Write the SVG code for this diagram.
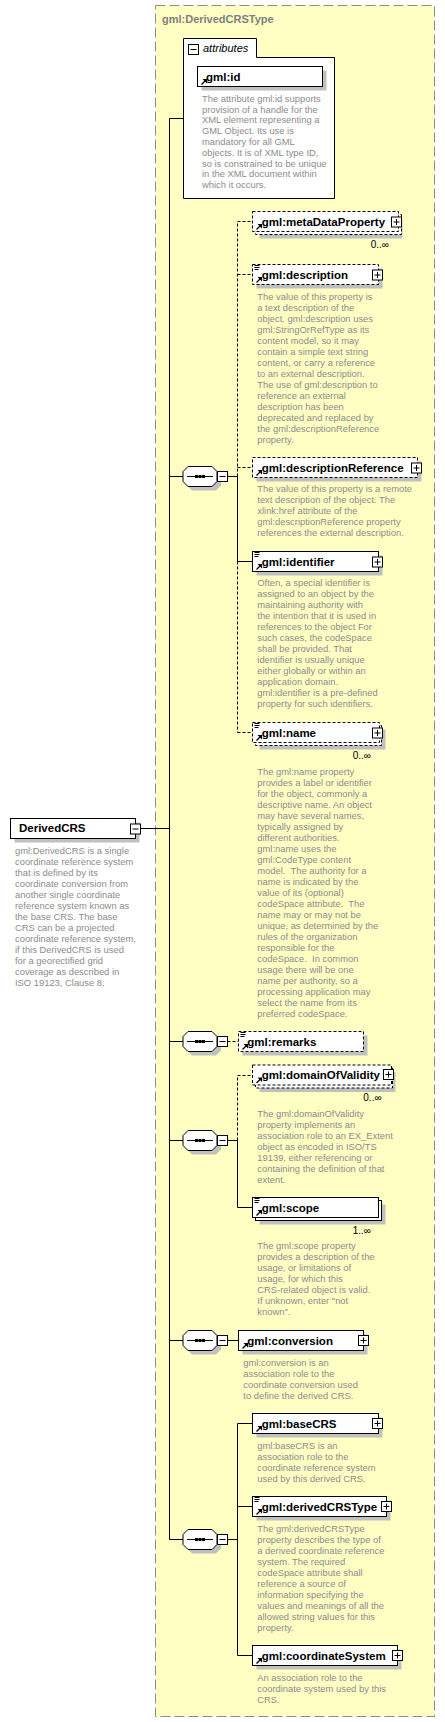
<svg xmlns="http://www.w3.org/2000/svg" xmlns:xlink="http://www.w3.org/1999/xlink" width="445" height="1722" viewBox="0 0 445 1722">
<style>
.frame{fill:#ffffc4;stroke:#8c8c8c;stroke-dasharray:10,4}
.box{fill:#fff;stroke:#000}
.d{stroke-dasharray:3,2}
.sh{fill:#c0c0c0}
.lbl{font-family:'Liberation Sans',Arial,sans-serif;font-weight:bold;font-size:11.5px;fill:#000}
.ttl{font-family:'Liberation Sans',Arial,sans-serif;font-weight:bold;font-size:11px;fill:#808080}
.doc{font-family:'Liberation Sans',Arial,sans-serif;font-size:9.4px;fill:#8c8c8c;white-space:pre}
.occ{font-family:'Liberation Sans',Arial,sans-serif;font-size:10px;fill:#000}
.conn path{fill:none;stroke:#000}
</style>
<defs>
<g id="ref"><path d="M0.5,5.5 L4.5,1.5" stroke="#000" stroke-width="1.3" fill="none"/><path d="M1.5,0 H6 V4.5 Z" fill="#000"/></g>
<g id="docic"><path d="M0,0.5H5M0,2.5H5M0,4.5H4" stroke="#000" fill="none"/></g>
<g id="plus"><rect x="0.5" y="0.5" width="10" height="10" fill="#fff" stroke="#000"/><path d="M2.5,5.5H8.5M5.5,2.5V8.5" stroke="#000" fill="none"/></g>
<g id="minus"><rect x="0.5" y="0.5" width="10" height="10" fill="#fff" stroke="#000"/><path d="M2.5,5.5H8.5" stroke="#000" fill="none"/></g>
<g id="seq">
<path d="M9,4.5 H33 L38,9.5 V19.5 L33,24.5 H9 L4,19.5 V9.5 Z" class="sh"/>
<path d="M5,0.5 H29 L34,5.5 V15.5 L29,20.5 H5 L0,15.5 V5.5 Z" fill="#fff" stroke="#000"/>
<path d="M4,10.5 H30" stroke="#000" fill="none"/>
<rect x="12" y="9" width="3" height="3" fill="#000"/><rect x="15.5" y="9" width="3" height="3" fill="#000"/><rect x="19" y="9" width="3" height="3" fill="#000"/>
<use xlink:href="#minus" x="34" y="5"/>
</g>
</defs>

<g id="DerivedCRSType">
<rect class="frame" x="155.5" y="5.5" width="279" height="1711"/>
<text class="ttl" x="162" y="23">gml:DerivedCRSType</text>
</g>

<g class="conn" id="connectors">
<path d="M140.5,828.5 H169.5"/>
<path d="M169.5,118.5 V1539.5"/>
<path d="M169.5,118.5 H183.5"/>
<path d="M169.5,476.5 H183"/>
<path d="M169.5,1041.5 H183"/>
<path d="M169.5,1140.5 H183"/>
<path d="M169.5,1340.5 H183"/>
<path d="M169.5,1539.5 H183"/>
<path d="M227.5,476.5 H237.5"/>
<path class="d" d="M237.5,476.5 V221.5"/>
<path d="M237.5,476.5 V561.5"/>
<path class="d" d="M237.5,561.5 V732.5"/>
<path class="d" d="M237.5,221.5 H252.5"/>
<path class="d" d="M237.5,274.5 H252.5"/>
<path class="d" d="M237.5,467.5 H252.5"/>
<path d="M237.5,561.5 H252.5"/>
<path class="d" d="M237.5,732.5 H252.5"/>
<path class="d" d="M227.5,1041.5 H238.5"/>
<path d="M227.5,1140.5 H237.5"/>
<path class="d" d="M237.5,1140.5 V1075.5 H252.5"/>
<path d="M237.5,1140.5 V1207.5 H252.5"/>
<path d="M227.5,1340.5 H238.5"/>
<path d="M227.5,1539.5 H237.5"/>
<path d="M237.5,1423.5 V1655.5"/>
<path d="M237.5,1423.5 H252.5"/>
<path d="M237.5,1506.5 H252.5"/>
<path d="M237.5,1655.5 H252.5"/>
</g>

<g id="DerivedCRS">
<rect class="sh" x="14.5" y="822.5" width="125" height="20"/>
<rect class="box" x="10.5" y="818.5" width="125" height="20"/>
<text class="lbl" x="19" y="832">DerivedCRS</text>
<use xlink:href="#minus" x="130" y="823.5"/>
<text class="doc" x="15" y="853.7"><tspan x="15">gml:DerivedCRS is a single</tspan><tspan x="15" dy="11">coordinate reference system</tspan><tspan x="15" dy="11">that is defined by its</tspan><tspan x="15" dy="11">coordinate conversion from</tspan><tspan x="15" dy="11">another single coordinate</tspan><tspan x="15" dy="11">reference system known as</tspan><tspan x="15" dy="11">the base CRS. The base</tspan><tspan x="15" dy="11">CRS can be a projected</tspan><tspan x="15" dy="11">coordinate reference system,</tspan><tspan x="15" dy="11">if this DerivedCRS is used</tspan><tspan x="15" dy="11">for a georectified grid</tspan><tspan x="15" dy="11">coverage as described in</tspan><tspan x="15" dy="11">ISO 19123, Clause 8.</tspan></text>
</g>

<g id="attributes">
<path class="box" d="M183.5,38.5 H256.5 V57.5 H334.5 V198.5 H183.5 Z"/>
<use xlink:href="#minus" x="188" y="44"/>
<text x="203" y="52" style="font-family:'Liberation Sans',Arial,sans-serif;font-style:italic;font-size:11px;fill:#000">attributes</text>
</g>

<g id="gml_id">
<rect class="sh" x="201.5" y="70.5" width="125" height="20"/>
<rect class="box" x="197.5" y="66.5" width="125" height="20"/>
<use xlink:href="#ref" x="201" y="79"/>
<text class="lbl" x="206" y="80.5">gml:id</text>
<text class="doc" x="202" y="101.7"><tspan x="202">The attribute gml:id supports</tspan><tspan x="202" dy="10.8">provision of a handle for the</tspan><tspan x="202" dy="10.8">XML element representing a</tspan><tspan x="202" dy="10.8">GML Object. Its use is</tspan><tspan x="202" dy="10.8">mandatory for all GML</tspan><tspan x="202" dy="10.8">objects. It is of XML type ID,</tspan><tspan x="202" dy="10.8">so is constrained to be unique</tspan><tspan x="202" dy="10.8">in the XML document within</tspan><tspan x="202" dy="10.8">which it occurs.</tspan></text>
</g>

<g id="seq1"><use xlink:href="#seq" x="183" y="466"/></g>
<g id="seq2"><use xlink:href="#seq" x="183" y="1031"/></g>
<g id="seq3"><use xlink:href="#seq" x="183" y="1130"/></g>
<g id="seq4"><use xlink:href="#seq" x="183" y="1330"/></g>
<g id="seq5"><use xlink:href="#seq" x="183" y="1529"/></g>

<g id="metaDataProperty">
<rect class="sh" x="259.5" y="218.5" width="143" height="20"/>
<rect class="box d" x="255.5" y="214.5" width="146" height="20"/>
<rect class="box d" x="252.5" y="211.5" width="146" height="20"/>
<use xlink:href="#ref" x="256" y="224"/>
<text class="lbl" x="261.7" y="225.5">gml:metaDataProperty</text>
<use xlink:href="#plus" x="391" y="216.5"/>
<text class="occ" x="370.7" y="248.3">0..∞</text>
</g>

<g id="description">
<rect class="sh" x="256.5" y="268.5" width="126" height="20"/>
<rect class="box d" x="252.5" y="264.5" width="126" height="20"/>
<use xlink:href="#docic" x="254.5" y="265"/>
<use xlink:href="#ref" x="256" y="277"/>
<text class="lbl" x="261.7" y="278.5">gml:description</text>
<use xlink:href="#plus" x="372" y="269.5"/>
<text class="doc" x="257.3" y="300"><tspan x="257.3">The value of this property is</tspan><tspan x="257.3" dy="11">a text description of the</tspan><tspan x="257.3" dy="11">object. gml:description uses</tspan><tspan x="257.3" dy="11">gml:StringOrRefType as its</tspan><tspan x="257.3" dy="11">content model, so it may</tspan><tspan x="257.3" dy="11">contain a simple text string</tspan><tspan x="257.3" dy="11">content, or carry a reference</tspan><tspan x="257.3" dy="11">to an external description.</tspan><tspan x="257.3" dy="11">The use of gml:description to</tspan><tspan x="257.3" dy="11">reference an external</tspan><tspan x="257.3" dy="11">description has been</tspan><tspan x="257.3" dy="11">deprecated and replaced by</tspan><tspan x="257.3" dy="11">the gml:descriptionReference</tspan><tspan x="257.3" dy="11">property.</tspan></text>
</g>

<g id="descriptionReference">
<rect class="sh" x="256.5" y="461.5" width="165" height="20"/>
<rect class="box d" x="252.5" y="457.5" width="165" height="20"/>
<use xlink:href="#ref" x="256" y="470"/>
<text class="lbl" x="261.7" y="471.5">gml:descriptionReference</text>
<use xlink:href="#plus" x="411" y="462.5"/>
<text class="doc" x="257.3" y="492.3"><tspan x="257.3">The value of this property is a remote</tspan><tspan x="257.3" dy="11">text description of the object. The</tspan><tspan x="257.3" dy="11">xlink:href attribute of the</tspan><tspan x="257.3" dy="11">gml:descriptionReference property</tspan><tspan x="257.3" dy="11">references the external description.</tspan></text>
</g>

<g id="identifier">
<rect class="sh" x="256.5" y="555.5" width="126" height="20"/>
<rect class="box" x="252.5" y="551.5" width="126" height="20"/>
<use xlink:href="#docic" x="254.5" y="552"/>
<use xlink:href="#ref" x="256" y="564"/>
<text class="lbl" x="261.7" y="565.5">gml:identifier</text>
<use xlink:href="#plus" x="372" y="556.5"/>
<text class="doc" x="257.3" y="586"><tspan x="257.3">Often, a special identifier is</tspan><tspan x="257.3" dy="11">assigned to an object by the</tspan><tspan x="257.3" dy="11">maintaining authority with</tspan><tspan x="257.3" dy="11">the intention that it is used in</tspan><tspan x="257.3" dy="11">references to the object For</tspan><tspan x="257.3" dy="11">such cases, the codeSpace</tspan><tspan x="257.3" dy="11">shall be provided. That</tspan><tspan x="257.3" dy="11">identifier is usually unique</tspan><tspan x="257.3" dy="11">either globally or within an</tspan><tspan x="257.3" dy="11">application domain.</tspan><tspan x="257.3" dy="11">gml:identifier is a pre-defined</tspan><tspan x="257.3" dy="11">property for such identifiers.</tspan></text>
</g>

<g id="name">
<rect class="sh" x="259.5" y="729.5" width="126" height="20"/>
<rect class="box d" x="255.5" y="725.5" width="126" height="20"/>
<rect class="box d" x="252.5" y="722.5" width="127" height="20"/>
<use xlink:href="#docic" x="254.5" y="723"/>
<use xlink:href="#ref" x="256" y="735"/>
<text class="lbl" x="261.7" y="736.5">gml:name</text>
<use xlink:href="#plus" x="372" y="727.5"/>
<text class="occ" x="352.7" y="759.3">0..∞</text>
<text class="doc" x="257.3" y="775"><tspan x="257.3">The gml:name property</tspan><tspan x="257.3" dy="11">provides a label or identifier</tspan><tspan x="257.3" dy="11">for the object, commonly a</tspan><tspan x="257.3" dy="11">descriptive name. An object</tspan><tspan x="257.3" dy="11">may have several names,</tspan><tspan x="257.3" dy="11">typically assigned by</tspan><tspan x="257.3" dy="11">different authorities.</tspan><tspan x="257.3" dy="11">gml:name uses the</tspan><tspan x="257.3" dy="11">gml:CodeType content</tspan><tspan x="257.3" dy="11">model.  The authority for a</tspan><tspan x="257.3" dy="11">name is indicated by the</tspan><tspan x="257.3" dy="11">value of its (optional)</tspan><tspan x="257.3" dy="11">codeSpace attribute.  The</tspan><tspan x="257.3" dy="11">name may or may not be</tspan><tspan x="257.3" dy="11">unique, as determined by the</tspan><tspan x="257.3" dy="11">rules of the organization</tspan><tspan x="257.3" dy="11">responsible for the</tspan><tspan x="257.3" dy="11">codeSpace.  In common</tspan><tspan x="257.3" dy="11">usage there will be one</tspan><tspan x="257.3" dy="11">name per authority, so a</tspan><tspan x="257.3" dy="11">processing application may</tspan><tspan x="257.3" dy="11">select the name from its</tspan><tspan x="257.3" dy="11">preferred codeSpace.</tspan></text>
</g>

<g id="remarks">
<rect class="sh" x="242.5" y="1035.5" width="125" height="20"/>
<rect class="box d" x="238.5" y="1031.5" width="125" height="20"/>
<use xlink:href="#docic" x="240.5" y="1032"/>
<use xlink:href="#ref" x="242" y="1044"/>
<text class="lbl" x="247.3" y="1045.5">gml:remarks</text>
</g>

<g id="domainOfValidity">
<rect class="sh" x="259.5" y="1072" width="136" height="20"/>
<rect class="box d" x="255.5" y="1068" width="137" height="20"/>
<rect class="box d" x="252.5" y="1065" width="139" height="20"/>
<use xlink:href="#ref" x="256" y="1077.5"/>
<text class="lbl" x="261.7" y="1078.5">gml:domainOfValidity</text>
<use xlink:href="#plus" x="383" y="1069"/>
<text class="occ" x="363.3" y="1101">0..∞</text>
<text class="doc" x="257.3" y="1116.7"><tspan x="257.3">The gml:domainOfValidity</tspan><tspan x="257.3" dy="11">property implements an</tspan><tspan x="257.3" dy="11">association role to an EX_Extent</tspan><tspan x="257.3" dy="11">object as encoded in ISO/TS</tspan><tspan x="257.3" dy="11">19139, either referencing or</tspan><tspan x="257.3" dy="11">containing the definition of that</tspan><tspan x="257.3" dy="11">extent.</tspan></text>
</g>

<g id="scope">
<rect class="sh" x="259.5" y="1204.5" width="126" height="20"/>
<rect class="box" x="255.5" y="1200.5" width="126" height="20"/>
<rect class="box" x="252.5" y="1197.5" width="126" height="20"/>
<use xlink:href="#docic" x="254.5" y="1198"/>
<use xlink:href="#ref" x="256" y="1210"/>
<text class="lbl" x="261.7" y="1211.5">gml:scope</text>
<text class="occ" x="352.7" y="1234">1..∞</text>
<text class="doc" x="257.3" y="1249.3"><tspan x="257.3">The gml:scope property</tspan><tspan x="257.3" dy="11">provides a description of the</tspan><tspan x="257.3" dy="11">usage, or limitations of</tspan><tspan x="257.3" dy="11">usage, for which this</tspan><tspan x="257.3" dy="11">CRS-related object is valid.</tspan><tspan x="257.3" dy="11">If unknown, enter "not</tspan><tspan x="257.3" dy="11">known".</tspan></text>
</g>

<g id="conversion">
<rect class="sh" x="242.5" y="1334.5" width="125" height="20"/>
<rect class="box" x="238.5" y="1330.5" width="125" height="20"/>
<use xlink:href="#ref" x="242" y="1343"/>
<text class="lbl" x="247.3" y="1344.5">gml:conversion</text>
<use xlink:href="#plus" x="358" y="1335"/>
<text class="doc" x="243.3" y="1365.7"><tspan x="243.3">gml:conversion is an</tspan><tspan x="243.3" dy="11">association role to the</tspan><tspan x="243.3" dy="11">coordinate conversion used</tspan><tspan x="243.3" dy="11">to define the derived CRS.</tspan></text>
</g>

<g id="baseCRS">
<rect class="sh" x="256.5" y="1417.5" width="126" height="20"/>
<rect class="box" x="252.5" y="1413.5" width="126" height="20"/>
<use xlink:href="#ref" x="256" y="1426"/>
<text class="lbl" x="261.7" y="1427.5">gml:baseCRS</text>
<use xlink:href="#plus" x="372" y="1418"/>
<text class="doc" x="257.3" y="1449"><tspan x="257.3">gml:baseCRS is an</tspan><tspan x="257.3" dy="11">association role to the</tspan><tspan x="257.3" dy="11">coordinate reference system</tspan><tspan x="257.3" dy="11">used by this derived CRS.</tspan></text>
</g>

<g id="derivedCRSType">
<rect class="sh" x="256.5" y="1500.5" width="134" height="20"/>
<rect class="box" x="252.5" y="1496.5" width="134" height="20"/>
<use xlink:href="#docic" x="254.5" y="1497"/>
<use xlink:href="#ref" x="256" y="1509"/>
<text class="lbl" x="261.7" y="1510.5">gml:derivedCRSType</text>
<use xlink:href="#plus" x="381" y="1501"/>
<text class="doc" x="257.3" y="1531.7"><tspan x="257.3">The gml:derivedCRSType</tspan><tspan x="257.3" dy="11">property describes the type of</tspan><tspan x="257.3" dy="11">a derived coordinate reference</tspan><tspan x="257.3" dy="11">system. The required</tspan><tspan x="257.3" dy="11">codeSpace attribute shall</tspan><tspan x="257.3" dy="11">reference a source of</tspan><tspan x="257.3" dy="11">information specifying the</tspan><tspan x="257.3" dy="11">values and meanings of all the</tspan><tspan x="257.3" dy="11">allowed string values for this</tspan><tspan x="257.3" dy="11">property.</tspan></text>
</g>

<g id="coordinateSystem">
<rect class="sh" x="256.5" y="1649.5" width="145" height="20"/>
<rect class="box" x="252.5" y="1645.5" width="145" height="20"/>
<use xlink:href="#ref" x="256" y="1658"/>
<text class="lbl" x="261.7" y="1659.5">gml:coordinateSystem</text>
<use xlink:href="#plus" x="392" y="1650"/>
<text class="doc" x="257.3" y="1680.7"><tspan x="257.3">An association role to the</tspan><tspan x="257.3" dy="11">coordinate system used by this</tspan><tspan x="257.3" dy="11">CRS.</tspan></text>
</g>
</svg>
